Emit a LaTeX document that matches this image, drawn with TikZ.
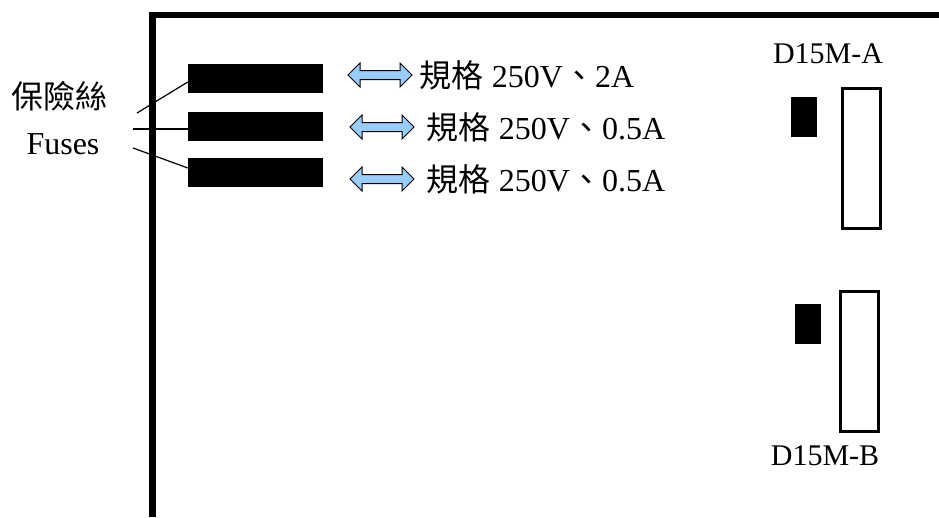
\documentclass[tikz,border=0pt]{standalone}
\usepackage{fontspec}
\setmainfont{Liberation Serif}
\newfontfamily\cjk{Noto Sans CJK TC}
\usetikzlibrary{shapes,arrows,positioning,calc}
\definecolor{arrowblue}{RGB}{153,204,255}

\begin{document}
\begin{tikzpicture}[x=1pt,y=-1pt,font=\fontsize{32}{34}\selectfont,
  fuse/.style={fill=black,draw=none,minimum width=135pt,minimum height=29pt,inner sep=0},
  plug/.style={fill=black,draw=none,minimum width=26pt,minimum height=40pt,inner sep=0},
  socket/.style={draw,line width=3pt,fill=white,minimum width=38pt,minimum height=140pt,inner sep=0},
  dbl/.style={double arrow,draw,fill=arrowblue,line width=1pt,minimum height=64pt,minimum width=23pt,inner sep=4pt,double arrow head extend=7.5pt},
  spec/.style={anchor=west,inner sep=0},
  tag/.style={font=\fontsize{30}{32}\selectfont}]
        \useasboundingbox (0,0) rectangle (939,517);
        \draw[line width=6.5pt] (152.5,517) -- (152.5,15) -- (939,15);
        \node [fuse] (fuseA) at (255.5,78.5) {};
        \node [fuse] (fuseB) at (255.5,126) {};
        \node [fuse] (fuseC) at (255.5,172) {};
        \node [] (fusezh) at (60,96) {\cjk 保險絲};
        \node [] (fuseen) at (63,144) {Fuses};
        \coordinate (legA) at (137,113);
        \coordinate (legB) at (133,129);
        \coordinate (legC) at (133,148);
        \draw[line width=1.2pt] (legA) -- (fuseA.west |- 0,82);
        \draw[line width=1.2pt] (legB) -- (fuseB.west |- 0,129);
        \draw[line width=1.2pt] (legC) -- (fuseC.west |- 0,168);
        \node [dbl] (arrA) at (380,75) {};
        \node [dbl] (arrB) at (382,127) {};
        \node [dbl] (arrC) at (382,179) {};
        \node [spec,right=7pt of arrA] (specA) {{\cjk 規格} 250V{\cjk 、}2A};
        \node [spec,right=12pt of arrB] (specB) {{\cjk 規格} 250V{\cjk 、}0.5A};
        \node [spec,right=12pt of arrC] (specC) {{\cjk 規格} 250V{\cjk 、}0.5A};
        \node [socket] (sockA) at (861,158) {};
        \node [plug] (plugA) at (804,117) {};
        \node [tag,above=19pt of sockA,xshift=-33pt] (nameA) {D15M-A};
        \node [socket] (sockB) at (859,361.5) {};
        \node [plug] (plugB) at (808,324) {};
        \node [tag,below=9pt of sockB,xshift=-34pt] (nameB) {D15M-B};
\end{tikzpicture}
\end{document}
